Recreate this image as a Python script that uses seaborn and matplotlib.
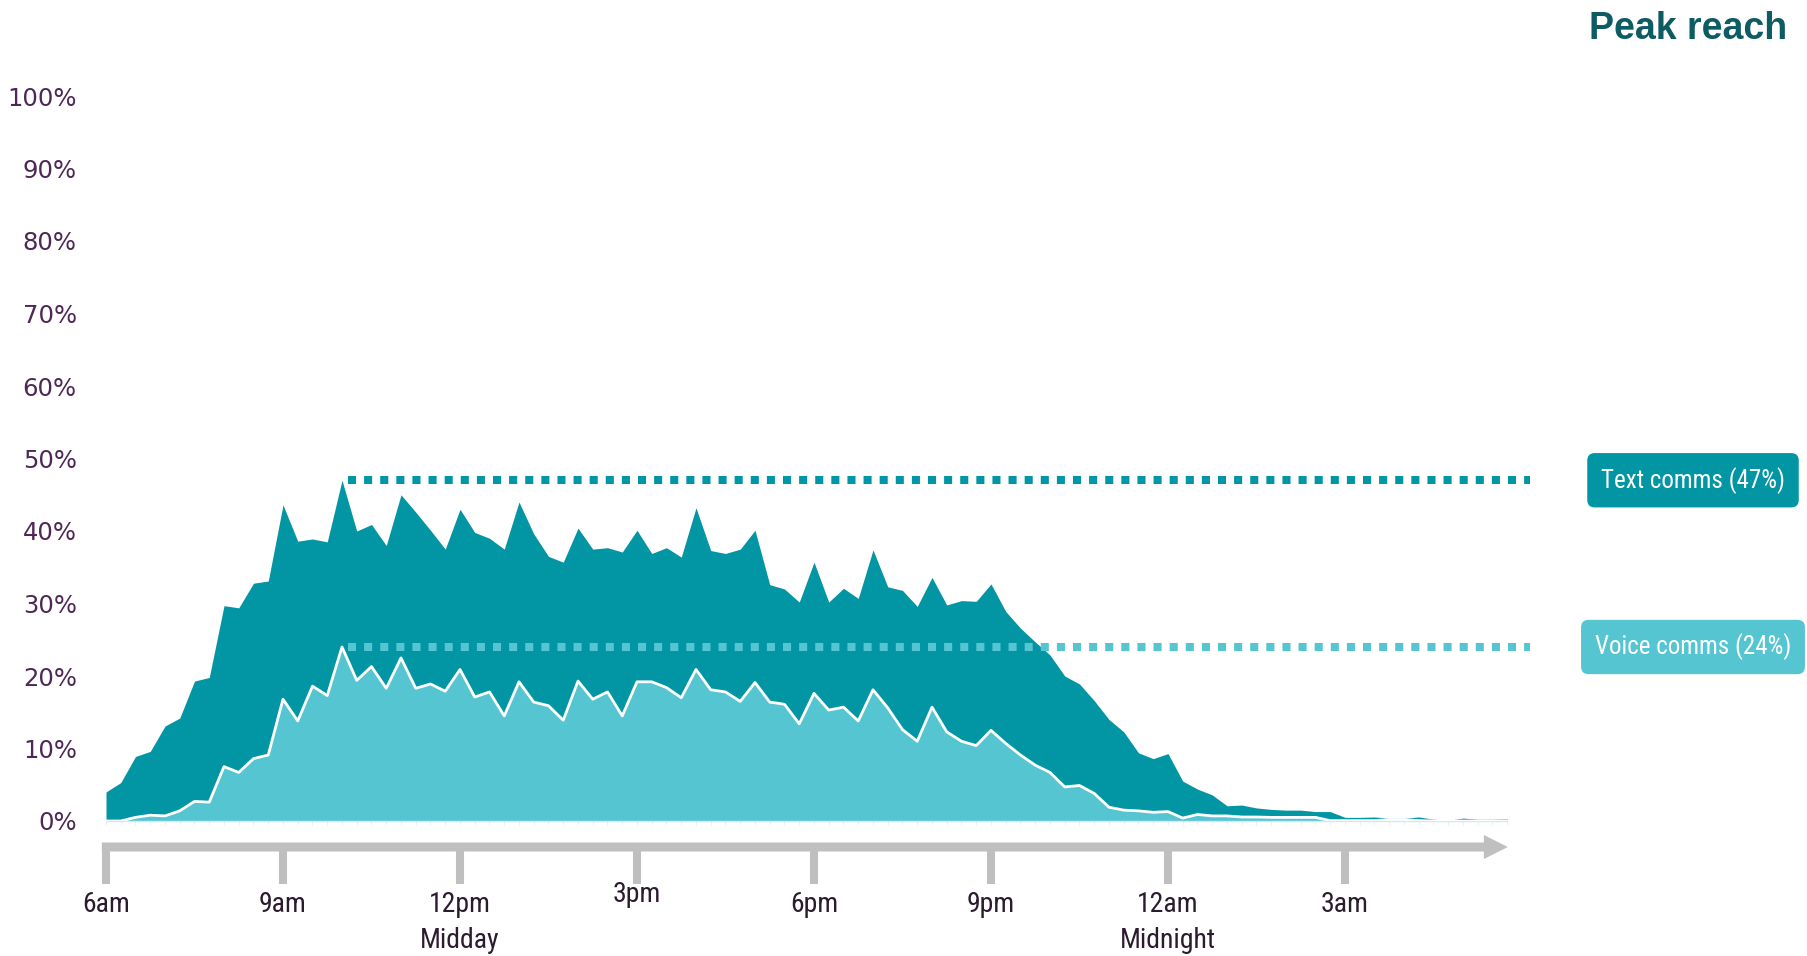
import numpy as np
import pandas as pd
import matplotlib
matplotlib.use("Agg")
import matplotlib.pyplot as plt
from matplotlib import font_manager as fm
from matplotlib.patches import FancyArrow
from matplotlib.transforms import blended_transform_factory
import seaborn as sns

# Share of people reached in each 15-minute slot, starting 6:00am (percent)
text_comms = [
    4.0, 5.3, 8.9, 9.6, 13.1, 14.2, 19.3, 19.8, 29.7, 29.4, 32.8, 33.1,
    43.6, 38.6, 38.9, 38.5, 47.0, 40.0, 40.9, 38.0, 45.0, 42.6, 40.1, 37.5,
    43.0, 39.8, 39.0, 37.5, 44.0, 39.6, 36.5, 35.7, 40.4, 37.5, 37.7, 37.1,
    40.1, 36.9, 37.7, 36.4, 43.2, 37.3, 36.9, 37.5, 40.1, 32.6, 32.0, 30.2,
    35.7, 30.2, 32.1, 30.7, 37.4, 32.3, 31.8, 29.6, 33.6, 29.8, 30.4, 30.3,
    32.7, 28.9, 26.6, 24.7, 22.9, 20.0, 18.9, 16.6, 14.0, 12.3, 9.4, 8.6,
    9.3, 5.5, 4.4, 3.6, 2.1, 2.2, 1.8, 1.6, 1.5, 1.5, 1.3, 1.3,
    0.5, 0.5, 0.55, 0.4, 0.4, 0.55, 0.25, 0.1, 0.4, 0.25, 0.25, 0.3,
]
voice_comms = [
    0.0, 0.0, 0.5, 0.8, 0.7, 1.4, 2.7, 2.6, 7.5, 6.7, 8.6, 9.1,
    16.8, 13.8, 18.6, 17.3, 24.0, 19.4, 21.3, 18.3, 22.5, 18.3, 18.9, 17.9,
    20.9, 17.1, 17.8, 14.5, 19.2, 16.4, 15.9, 13.9, 19.3, 16.8, 17.8, 14.5,
    19.2, 19.2, 18.4, 17.0, 20.9, 18.1, 17.8, 16.5, 19.1, 16.4, 16.1, 13.4,
    17.6, 15.3, 15.7, 13.8, 18.1, 15.6, 12.6, 11.0, 15.7, 12.3, 11.0, 10.4,
    12.5, 10.7, 9.1, 7.7, 6.7, 4.7, 4.9, 3.8, 1.9, 1.5, 1.4, 1.2,
    1.3, 0.4, 0.9, 0.7, 0.7, 0.55, 0.55, 0.5, 0.5, 0.5, 0.5, 0.05,
    0.05, 0.05, 0.05, 0.2, 0.2, 0.05, 0.0, 0.0, 0.0, 0.0, 0.0, 0.0,
]
series_names = ["Text comms", "Voice comms"]
time_labels = ["6am", "9am", "12pm", "3pm", "6pm", "9pm", "12am", "3am"]
time_sublabels = {"12pm": "Midday", "12am": "Midnight"}
y_ticks = list(range(0, 101, 10))
title = "Peak reach"

DARK = "#0295A4"
LIGHT = "#56C5D2"
GREY = "#BFBFBF"


def pick_font(*names):
    for n in names:
        try:
            fm.findfont(fm.FontProperties(family=n), fallback_to_default=False)
            return n
        except Exception:
            continue
    return "DejaVu Sans"


sns.set_theme(style="white")
narrow = pick_font("Liberation Sans Narrow", "Roboto Condensed", "Roboto")
sans = pick_font("Liberation Sans", "DejaVu Sans")
plt.rcParams["font.family"] = ["DejaVu Sans"]

df = pd.DataFrame({
    "hours": np.arange(len(text_comms)) * 0.25,
    "text": text_comms,
    "voice": voice_comms,
})

W, H = 1808, 956
fig = plt.figure(figsize=(W / 100, H / 100), dpi=100)
fig.patch.set_facecolor("white")
px_per_hour = 59.0
ax_left, ax_right, ax_bottom, ax_top = 106, 1530, 135, 860
ax = fig.add_axes([ax_left / W, ax_bottom / H, (ax_right - ax_left) / W, (ax_top - ax_bottom) / H])
ax.set_xlim(0, (ax_right - ax_left) / px_per_hour)
ax.set_ylim(0, 100)
px_per_unit = (ax_top - ax_bottom) / 100.0

# Text reach behind, voice reach in front
ax.fill_between(df["hours"], 0, df["text"], color=DARK, lw=0, zorder=1)
ax.fill_between(df["hours"], 0, df["voice"], color=LIGHT, lw=0, zorder=2)
sns.lineplot(data=df, x="hours", y="voice", color="white", lw=2.0, ax=ax, zorder=3)

# Peak reach guide lines
x_end = ax.get_xlim()[1]
for col, colour in (("text", DARK), ("voice", LIGHT)):
    peak_i = int(df[col].idxmax())
    peak_x = df["hours"][peak_i]
    peak_v = round(df[col].max())
    ax.plot([peak_x + 0.1, x_end], [peak_v, peak_v], color=colour, lw=5.8,
            ls=(0, (1, 1)), dash_capstyle="butt", zorder=4, clip_on=False)

# Peak labels at the right margin
trans = blended_transform_factory(fig.transFigure, ax.transData)
for name, col, colour in ((series_names[0], "text", DARK), (series_names[1], "voice", LIGHT)):
    peak_v = round(df[col].max())
    ax.text(1693 / W, peak_v, f"{name} ({peak_v}%)", transform=trans,
            ha="center", va="center", color="white", fontsize=18, family=narrow,
            bbox=dict(boxstyle="round,pad=0.55,rounding_size=0.3", fc=colour, ec="none"),
            zorder=5)

# Y axis
ax.set_yticks(y_ticks)
ax.set_yticklabels([f"{v}%" for v in y_ticks], color="#4E2757", fontsize=17.5)
ax.tick_params(axis="y", length=0, pad=21)
for lbl in ax.get_yticklabels():
    lbl.set_family(["DejaVu Sans"])

# Faint baseline with a small mark at each slot
for side in ("left", "right", "top"):
    ax.spines[side].set_visible(False)
ax.spines["bottom"].set_color("#CDEBF0")
ax.spines["bottom"].set_linewidth(1.0)
ax.spines["bottom"].set_bounds(0, df["hours"].iloc[-1])
ax.set_xticks([])
ax.set_xticks(df["hours"], minor=True)
ax.tick_params(axis="x", which="minor", length=3, width=0.6, color="#DCEFF3", bottom=True)
ax.set_xlabel("")
ax.set_ylabel("")

# Time arrow beneath the chart
arrow_y = -26 / px_per_unit
tick_bottom = -63 / px_per_unit
arrow = FancyArrow(-0.07, arrow_y, 23.83, 0, width=9 / px_per_unit,
                   head_width=24 / px_per_unit, head_length=24 / px_per_hour,
                   length_includes_head=True, color=GREY, lw=0, clip_on=False, zorder=2)
ax.add_patch(arrow)
label_y = -83 / px_per_unit
sub_y = -119 / px_per_unit
lift = {"3pm": 10 / px_per_unit}
for k, lab in enumerate(time_labels):
    hx = 3 * k
    ax.plot([hx, hx], [arrow_y, tick_bottom], color=GREY, lw=5.8,
            solid_capstyle="butt", clip_on=False, zorder=2)
    ax.text(hx, label_y + lift.get(lab, 0), lab, ha="center", va="center",
            fontsize=20, family=narrow, color="#2B1B2E", clip_on=False)
    if lab in time_sublabels:
        ax.text(hx, sub_y, time_sublabels[lab], ha="center", va="center",
                fontsize=20, family=narrow, color="#2B1B2E", clip_on=False)

fig.text(1787 / W, 1 - 29 / H, title, ha="right", va="center", fontsize=27,
         fontweight="bold", family=sans, color="#0D5C63")

fig.savefig("out.png", dpi=100, facecolor="white")
